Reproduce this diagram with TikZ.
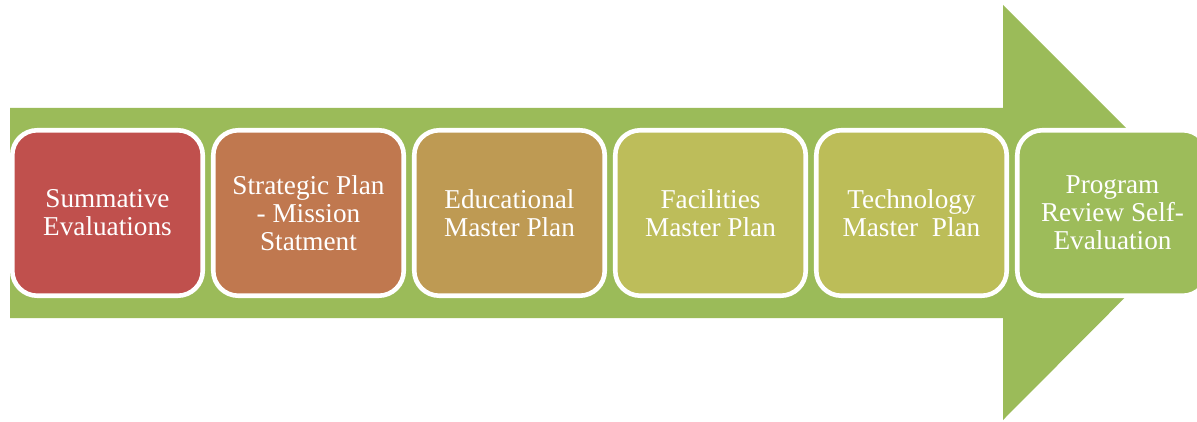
\documentclass[tikz,border=0pt]{standalone}
\usepackage{fontspec}
\setmainfont{Liberation Serif}
\usetikzlibrary{positioning}

\definecolor{arrowGreen}{HTML}{9BBB59}
\definecolor{summRed}{HTML}{C0504D}
\definecolor{stratBrown}{HTML}{C0784F}
\definecolor{eduOchre}{HTML}{BE9A53}
\definecolor{facOlive}{HTML}{BDBD5A}
\definecolor{techOlive}{HTML}{BCBD58}
\definecolor{progGreen}{HTML}{9DBC5A}

\begin{document}
\begin{tikzpicture}[x=0.02cm, y=-0.02cm,
		stageBox/.style={rectangle, rounded corners=0.5cm, draw=white, line width=2.6pt, minimum width=3.81cm, minimum height=3.31cm, text=white, align=center, font=\fontsize{15.5}{16}\selectfont}]
		\useasboundingbox (0,0) rectangle (1197,422);
		\clip (0,0) rectangle (1197,422);

		% big arrow behind the stages
		\fill[arrowGreen] (10,108) -- (1003,108) -- (1003,5) -- (1210,212) -- (1003,420) -- (1003,318) -- (10,318) -- cycle;

		% stages
		\node[stageBox, fill=summRed](summBox) at (107.5,213){Summative\\Evaluations};
		\node[stageBox, fill=stratBrown](stratBox) at (308.5,213){Strategic Plan\\- Mission\\Statment};
		\node[stageBox, fill=eduOchre](eduBox) at (509.5,213){Educational\\Master Plan};
		\node[stageBox, fill=facOlive](facBox) at (710.5,213){Facilities\\Master Plan};
		\node[stageBox, fill=techOlive](techBox) at (911.5,213){Technology\\Master\ \ Plan};
		\node[stageBox, fill=progGreen](progBox) at (1112.5,213){Program\\Review Self-\\Evaluation};

	\end{tikzpicture}
\end{document}
